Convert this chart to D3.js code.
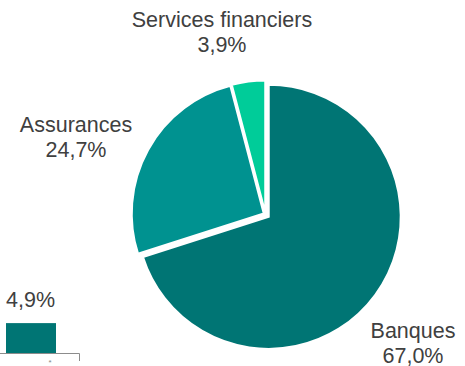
<!DOCTYPE html>
<html>
<head>
<meta charset="utf-8">
<script src="https://cdn.jsdelivr.net/npm/d3@7"></script>
<style>
  html, body { margin: 0; padding: 0; background: #fff; }
  svg { display: block; }
  text { font-family: "Liberation Sans", Arial, sans-serif; fill: #404040; }
</style>
</head>
<body>
<svg id="chart" width="465" height="366"></svg>
<script>
// ---- data ----
const categories = ["Banques", "Assurances", "Services financiers"];
const values = [67.0, 24.7, 3.9];
const valueLabels = ["67,0%", "24,7%", "3,9%"];
const colors = ["#007574", "#009290", "#00CC99"];

const barCategories = ["*"];
const barValues = [4.9];
const barLabels = ["4,9%"];

// ---- layout ----
const svg = d3.select("#chart");
const cx = 265.5, cy = 214.5, r = 132;
const offsets = [4, 2, 2];
const labelPos = [
  { x: 413, y: 338 },
  { x: 76, y: 132 },
  { x: 222, y: 27 }
];
const fs = 21.5;

const pie = d3.pie().sort(null).value(d => d.v);
const arcs = pie(categories.map((c, i) => ({ c, v: values[i], i })));
const arc = d3.arc().innerRadius(0).outerRadius(r);

const g = svg.append("g").attr("transform", `translate(${cx},${cy})`);
g.selectAll("path")
  .data(arcs)
  .join("path")
  .attr("d", arc)
  .attr("fill", d => colors[d.data.i])
  .attr("stroke", "#fff")
  .attr("stroke-width", 2)
  .attr("stroke-linejoin", "miter")
  .attr("transform", d => {
    const a = (d.startAngle + d.endAngle) / 2;
    const o = offsets[d.data.i];
    return `translate(${Math.sin(a) * o},${-Math.cos(a) * o})`;
  });

// labels
const lbl = svg.append("g");
arcs.forEach(d => {
  const i = d.data.i;
  const t = lbl.append("text")
    .attr("x", labelPos[i].x)
    .attr("y", labelPos[i].y)
    .attr("text-anchor", "middle")
    .attr("font-size", fs);
  t.append("tspan").attr("x", labelPos[i].x).text(categories[i]);
  t.append("tspan").attr("x", labelPos[i].x).attr("dy", 24.5).text(valueLabels[i]);
});

// ---- bar fragment ----
const x = d3.scaleBand().domain(barCategories).range([-19, 81]).paddingInner(0).paddingOuter(0.5);
const y = d3.scaleLinear().domain([0, 10]).range([353, 292]);

svg.selectAll("rect.bar")
  .data(barValues)
  .join("rect")
  .attr("class", "bar")
  .attr("x", (d, i) => x(barCategories[i]))
  .attr("width", x.bandwidth())
  .attr("y", d => y(d))
  .attr("height", d => y(0) - y(d))
  .attr("fill", "#007574");

svg.selectAll("text.barlbl")
  .data(barValues)
  .join("text")
  .attr("class", "barlbl")
  .attr("x", (d, i) => x(barCategories[i]))
  .attr("y", d => y(d) - 16)
  .attr("font-size", fs)
  .text((d, i) => barLabels[i]);

svg.append("path")
  .attr("d", `M0,${y(0) + 0.5}H79.5V361`)
  .attr("fill", "none")
  .attr("stroke", "#8c8c8c")
  .attr("stroke-width", 1);

svg.append("text")
  .attr("x", 50)
  .attr("y", 364.5)
  .attr("text-anchor", "middle")
  .attr("font-size", 8)
  .style("fill", "#888")
  .text(barCategories[0]);
</script>
</body>
</html>
